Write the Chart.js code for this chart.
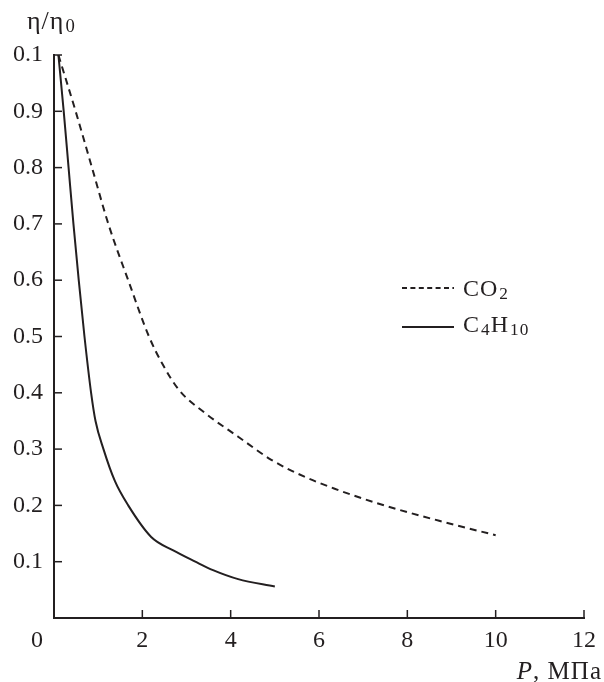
<!DOCTYPE html>
<html><head><meta charset="utf-8">
<script src="https://cdn.jsdelivr.net/npm/chart.js@4.4.0/dist/chart.umd.min.js"></script>
<style>
body{margin:0;background:#fff;}
#wrap{position:relative;width:604px;height:682px;font-family:"Liberation Serif","Times New Roman",serif;color:#231f20;}
canvas{position:absolute;left:0;top:0;}
.t{position:absolute;font-size:24px;line-height:1;white-space:nowrap;}
sub{font-size:0.72em;vertical-align:baseline;position:relative;top:0.18em;margin-left:1px;}
</style></head><body>
<div id="wrap">
<canvas id="c" width="604" height="682"></canvas>
<div class="t" id="ytitle" style="left:27px;top:8px;font-size:26px;letter-spacing:1px;">η/η<sub>0</sub></div>
<div class="t" id="zero" style="right:561px;top:627px;text-align:right;">0</div>
<div class="t" id="xtitle" style="right:2px;top:658px;font-size:25px;letter-spacing:1px;"><i>P</i>, МПа</div>
<div class="t" id="leg1" style="left:463px;top:276px;letter-spacing:1px;">CO<sub>2</sub></div>
<div class="t" id="leg2" style="left:463px;top:312px;letter-spacing:1px;">C<sub>4</sub>H<sub>10</sub></div>
</div>
<script>
// ---- data ----
const co2X = [0.1, 0.49, 0.86, 1.23, 1.68, 2.15, 2.45, 2.83, 3.42, 4.17, 4.92, 5.67, 6.34, 7.31, 8.8, 10.0];
const co2Y = [1.0, 0.9, 0.8, 0.7, 0.6, 0.5, 0.452, 0.405, 0.364, 0.322, 0.281, 0.251, 0.230, 0.204, 0.171, 0.147];
const butX = [0.1, 0.22, 0.33, 0.44, 0.56, 0.69, 0.84, 0.94, 1.12, 1.38, 1.68, 2.2, 2.7, 3.2, 3.6, 4.17, 5.0];
const butY = [1.0, 0.9, 0.8, 0.7, 0.6, 0.5, 0.4, 0.35, 0.3, 0.243, 0.2, 0.144, 0.12, 0.1, 0.085, 0.069, 0.056];
const xTickValues = [0, 2, 4, 6, 8, 10, 12];
const xTickLabels = ['', '2', '4', '6', '8', '10', '12'];
const yTickValues = [0.1, 0.2, 0.3, 0.4, 0.5, 0.6, 0.7, 0.8, 0.9, 1.0];
const yTickLabels = ['0.1', '0.2', '0.3', '0.4', '0.5', '0.6', '0.7', '0.8', '0.9', '0.1'];
const seriesNames = ['CO2', 'C4H10'];

const INK = '#231f20';
const FONT = {family: '"Liberation Serif", "Times New Roman", serif', size: 24, lineHeight: 1.2};

const toPts = (xs, ys) => xs.map((x, i) => ({x, y: ys[i]}));

const inwardTicks = {
  id: 'inwardTicks',
  afterDraw(chart) {
    const {ctx, chartArea: a, scales: {x, y}} = chart;
    ctx.save();
    ctx.strokeStyle = INK;
    ctx.lineWidth = 1.5;
    x.ticks.forEach(t => {
      if (t.value === 0) return;
      const px = x.getPixelForValue(t.value);
      ctx.beginPath(); ctx.moveTo(px, a.bottom); ctx.lineTo(px, a.bottom - 8); ctx.stroke();
    });
    y.ticks.forEach(t => {
      const py = y.getPixelForValue(t.value);
      ctx.beginPath(); ctx.moveTo(a.left, py); ctx.lineTo(a.left + 8, py); ctx.stroke();
    });
    // legend samples
    ctx.lineWidth = 1.8;
    ctx.setLineDash([5, 3.4]);
    ctx.beginPath(); ctx.moveTo(402, 288); ctx.lineTo(454, 288); ctx.stroke();
    ctx.setLineDash([]);
    ctx.beginPath(); ctx.moveTo(402, 327); ctx.lineTo(454, 327); ctx.stroke();
    ctx.restore();
  }
};

new Chart(document.getElementById('c'), {
  type: 'scatter',
  data: {
    datasets: [
      {label: seriesNames[0], data: toPts(co2X, co2Y), showLine: true, borderColor: INK, borderWidth: 2,
       borderDash: [7, 5], pointRadius: 0, cubicInterpolationMode: 'monotone', fill: false},
      {label: seriesNames[1], data: toPts(butX, butY), showLine: true, borderColor: INK, borderWidth: 2,
       pointRadius: 0, cubicInterpolationMode: 'monotone', fill: false}
    ]
  },
  options: {
    responsive: false,
    animation: false,
    events: [],
    layout: {padding: {left: 0, top: 55, right: 15, bottom: 0}},
    plugins: {legend: {display: false}, tooltip: {enabled: false}},
    scales: {
      x: {
        type: 'linear', min: 0, max: 12,
        afterBuildTicks: s => { s.ticks = xTickValues.map(v => ({value: v})); },
        afterFit: s => { s.height = 64; },
        grid: {display: false, drawTicks: false},
        border: {display: true, color: INK, width: 2},
        ticks: {color: INK, font: FONT, padding: 8, maxRotation: 0, autoSkip: false,
                callback: (v, i) => xTickLabels[i]}
      },
      y: {
        type: 'linear', min: 0, max: 1,
        afterBuildTicks: s => { s.ticks = yTickValues.map(v => ({value: v})); },
        afterFit: s => { s.width = 54; },
        grid: {display: false, drawTicks: false},
        border: {display: true, color: INK, width: 2},
        ticks: {color: INK, font: FONT, padding: 11, autoSkip: false,
                callback: (v, i) => yTickLabels[i]}
      }
    }
  },
  plugins: [inwardTicks]
});
</script>
</body></html>
